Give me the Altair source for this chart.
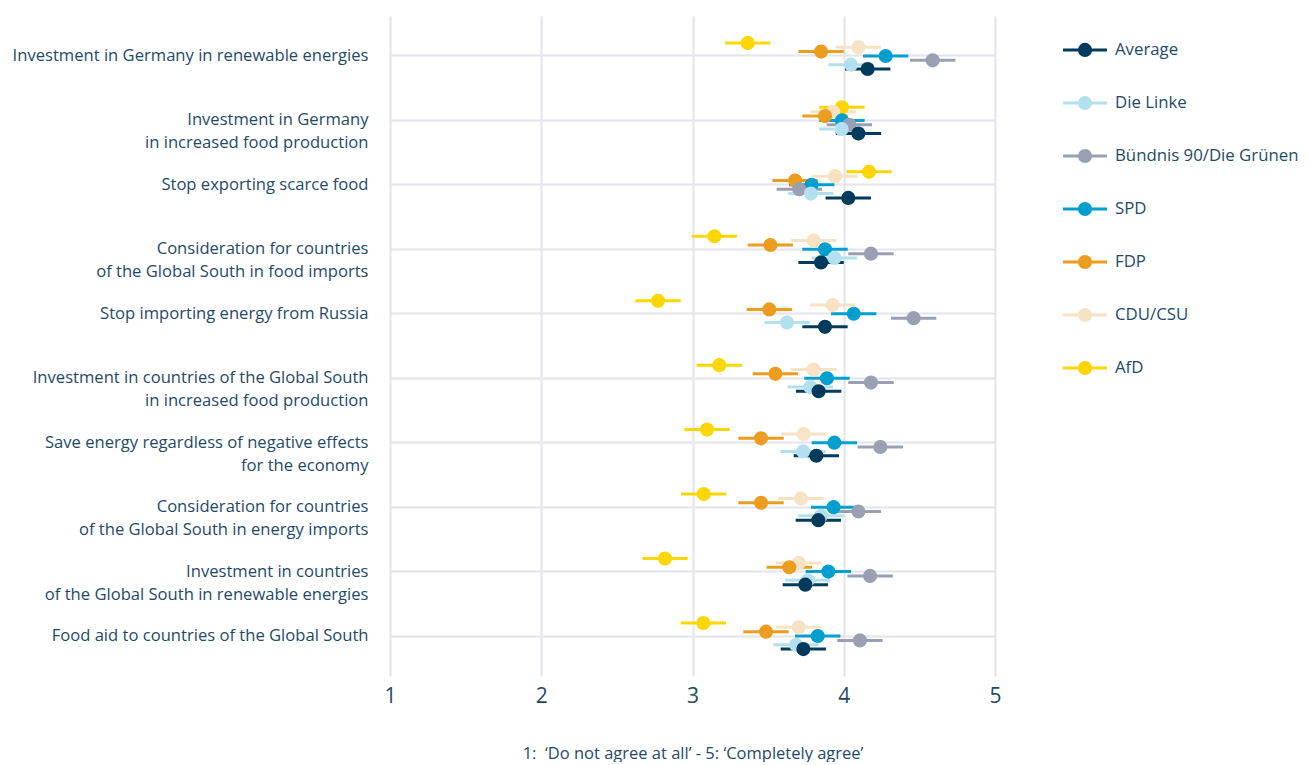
import altair as alt
import pandas as pd

categories = [
    "Investment in Germany in renewable energies",
    "Investment in Germany|in increased food production",
    "Stop exporting scarce food",
    "Consideration for countries|of the Global South in food imports",
    "Stop importing energy from Russia",
    "Investment in countries of the Global South|in increased food production",
    "Save energy regardless of negative effects|for the economy",
    "Consideration for countries|of the Global South in energy imports",
    "Investment in countries|of the Global South in renewable energies",
    "Food aid to countries of the Global South",
]

parties = ["AfD", "CDU/CSU", "FDP", "SPD", "Bündnis 90/Die Grünen", "Die Linke", "Average"]
dodge_rank = [-3, -2, -1, 0, 1, 2, 3]

afd = [3.365, 3.988, 4.167, 3.145, 2.772, 3.177, 3.096, 3.074, 2.818, 3.072]
cdu = [4.097, 3.930, 3.942, 3.801, 3.927, 3.801, 3.735, 3.717, 3.702, 3.702]
fdp = [3.850, 3.876, 3.678, 3.515, 3.508, 3.548, 3.453, 3.453, 3.640, 3.486]
spd = [4.277, 3.988, 3.788, 3.876, 4.066, 3.889, 3.938, 3.933, 3.898, 3.828]
gruene = [4.588, 4.037, 3.706, 4.180, 4.462, 4.180, 4.242, 4.097, 4.174, 4.107]
linke = [4.048, 3.986, 3.783, 3.938, 3.625, 3.779, 3.731, 3.850, 3.762, 3.684]
average = [4.158, 4.097, 4.030, 3.850, 3.876, 3.834, 3.819, 3.832, 3.746, 3.733]

# half width of the interval bars, per party
ci_half = [0.15, 0.15, 0.15, 0.15, 0.15, 0.15, 0.15]

party_colors = ["#fdd600", "#f8e2c4", "#ec9c1f", "#009fcf", "#9a9fb4", "#b3e0ef", "#003a5d"]

series = [afd, cdu, fdp, spd, gruene, linke, average]
rows = []
for p, r, vals, h in zip(parties, dodge_rank, series, ci_half):
    for c, v in zip(categories, vals):
        rows.append({"cat": c, "party": p, "rank": r, "mean": v, "lo": v - h, "hi": v + h})
df = pd.DataFrame(rows)

TXT = "#1e4a68"
GRID = "#e4e4ec"
FONT = "Open Sans"
XTITLE = "1:\u00a0\u00a0\u2018Do not agree at all\u2019 - 5: \u2018Completely agree\u2019"

color = alt.Color("party:N", scale=alt.Scale(domain=parties, range=party_colors), legend=None)

y_enc = alt.Y(
    "cat:N", sort=categories,
    scale=alt.Scale(paddingInner=0, paddingOuter=0.12),
    axis=alt.Axis(title=None, domain=False, ticks=False, labelPadding=22, labelFontSize=16.6,
                  labelColor=TXT, labelFont=FONT, labelExpr="split(datum.label, '|')",
                  labelLineHeight=23, grid=True, gridColor=GRID, gridWidth=2, bandPosition=0.5,
                  minExtent=382, maxExtent=382, labelLimit=400),
)
yoff = alt.YOffset("rank:Q", scale=alt.Scale(domain=[-7.4, 7.4]))
x_axis = alt.Axis(values=[1, 2, 3, 4, 5], format="d", tickSize=0, domain=False, grid=True,
                  gridColor=GRID, gridWidth=2, labelFontSize=21, labelColor=TXT, labelFont=FONT,
                  labelPadding=9, labelFlush=False, title=XTITLE,
                  titleFontSize=16.5, titleFontWeight="normal", titleColor=TXT, titleFont=FONT,
                  titlePadding=39)
x_scale = alt.Scale(domain=[1, 5], nice=False)

base = alt.Chart(df)
rules = base.mark_rule(strokeWidth=3).encode(
    x=alt.X("lo:Q", scale=x_scale, axis=x_axis), x2="hi:Q", y=y_enc, yOffset=yoff, color=color)
points = base.mark_circle(size=200, opacity=1).encode(
    x=alt.X("mean:Q", scale=x_scale, axis=x_axis), y=y_enc, yOffset=yoff, color=color)
main = alt.layer(rules, points).properties(width=605, height=660)

legend_order = list(reversed(parties))
leg_df = pd.DataFrame({"party": legend_order})
leg_y = alt.Y("party:N", sort=legend_order, scale=alt.Scale(paddingInner=0, paddingOuter=0.14), axis=None)
leg_base = alt.Chart(leg_df)
leg_rule = leg_base.mark_rule(strokeWidth=3).encode(x=alt.value(0), x2=alt.value(44), y=leg_y, color=color)
leg_pt = leg_base.mark_circle(size=200, opacity=1).encode(x=alt.value(22), y=leg_y, color=color)
leg_txt = leg_base.mark_text(align="left", baseline="middle", fontSize=16.8, color=TXT, font=FONT).encode(
    x=alt.value(52), y=leg_y, text="party:N")
legend = alt.layer(leg_rule, leg_pt, leg_txt).properties(width=200, height=386)

chart = alt.hconcat(main, legend, spacing=59).resolve_scale(y="independent").properties(
    padding={"left": 0, "top": 8, "right": 0, "bottom": 0}
).configure(font=FONT).configure_view(strokeWidth=0, stroke="transparent")

chart.save("out.html", embed_options={"renderer": "svg", "actions": False})
